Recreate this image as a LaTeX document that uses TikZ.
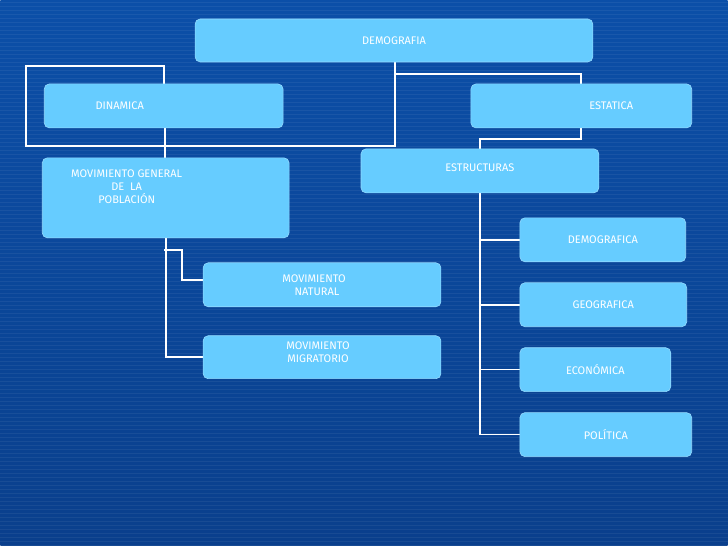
\documentclass[tikz,border=0pt]{standalone}
\usepackage{fontspec}
\setmainfont{Fira Sans}
\definecolor{bgtop}{HTML}{0B4FA8}
\definecolor{bgbot}{HTML}{0A3F8C}
\definecolor{boxc}{HTML}{66CCFF}
\begin{document}
\begin{tikzpicture}[x=1pt,y=-1pt,
  bx/.style={draw=boxc!70!white,fill=boxc,rounded corners=5pt,line width=0.6pt},
  lbl/.style={text=white,font=\fontsize{11}{13}\selectfont,align=center},
  ln/.style={draw=white,line width=1.6pt}]
\shade[top color=bgtop,bottom color=bgbot] (0,0) rectangle (728,546);
\foreach \y in {2,6,...,546} \draw[white,opacity=0.06,line width=0.6pt] (0,\y) -- (728,\y);
\useasboundingbox (0,0) rectangle (728,546);
% connectors
\draw[ln] (164,84) -- (164,66) -- (26,66) -- (26,146) -- (395,146) -- (395,62);
\draw[ln] (395,74) -- (581,74) -- (581,84);
\draw[ln] (165,128) -- (165,158);
\draw[ln] (581,128) -- (581,139) -- (480,139) -- (480,149);
\draw[ln] (480,193) -- (480,435) -- (520,435);
\foreach \y in {240,305,370} \draw[ln] (480,\y) -- (520,\y);
\draw[ln] (166,238) -- (166,357) -- (203,357);
\draw[ln] (164,250) -- (182,250) -- (182,280) -- (203,280);
% boxes
\draw[bx] (195,19) rectangle (593,62) node[lbl,midway] (demo) {DEMOGRAFIA};
\draw[bx] (44,84) rectangle (283,128) node[lbl,midway,xshift=-44] (din) {DINAMICA};
\draw[bx] (471,84) rectangle (692,128) node[lbl,midway,xshift=30] (est) {ESTATICA};
\draw[bx] (361,149) rectangle (599,193) node[lbl,midway,xshift=0,yshift=3] (estr) {ESTRUCTURAS};
\draw[bx] (42,158) rectangle (289,238) node[lbl,midway,xshift=-39,yshift=11] (mg) {MOVIMIENTO GENERAL\\DE\ \ LA\\POBLACIÓN};
\draw[bx] (203,263) rectangle (441,307) node[lbl,midway,xshift=-8] (mn) {MOVIMIENTO\\\ \ NATURAL};
\draw[bx] (203,336) rectangle (441,379) node[lbl,midway,xshift=-4,yshift=5] (mm) {MOVIMIENTO\\MIGRATORIO};
\draw[bx] (520,218) rectangle (686,262) node[lbl,midway] (d2) {DEMOGRAFICA};
\draw[bx] (520,283) rectangle (687,327) node[lbl,midway] (g) {GEOGRAFICA};
\draw[bx] (520,348) rectangle (671,392) node[lbl,midway] (e) {ECONÓMICA};
\draw[bx] (520,413) rectangle (692,457) node[lbl,midway] (p) {POLÍTICA};
\end{tikzpicture}
\end{document}
